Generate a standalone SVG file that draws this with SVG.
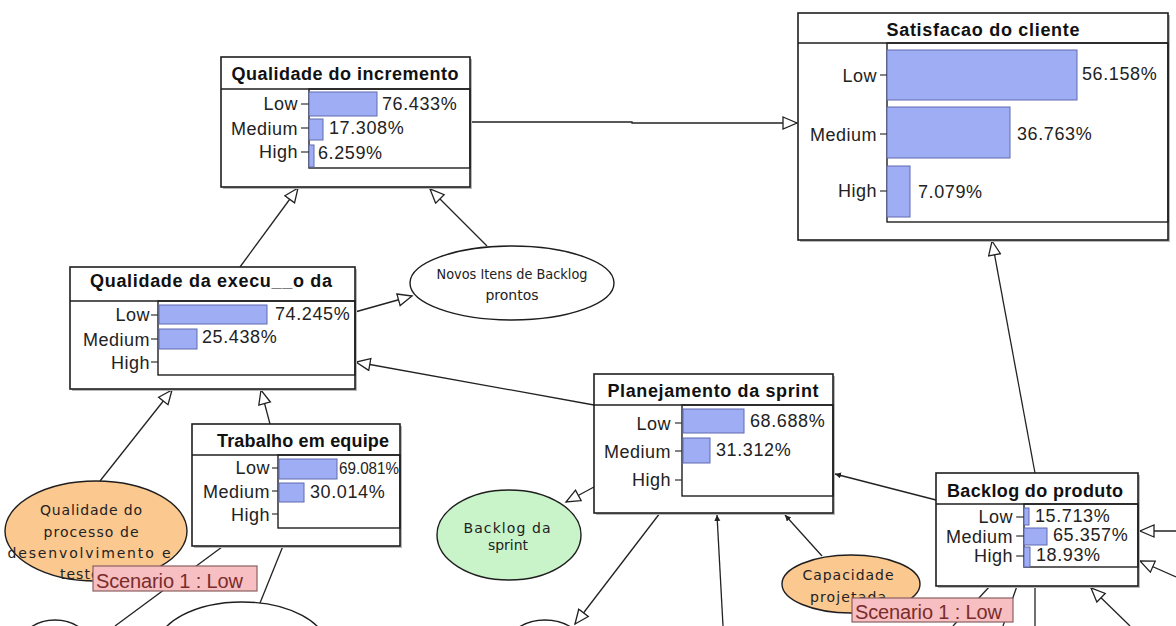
<svg xmlns="http://www.w3.org/2000/svg" width="1176" height="626" viewBox="0 0 1176 626">
  <defs>
    <marker id="hollow" markerUnits="userSpaceOnUse" markerWidth="18" markerHeight="16" refX="15" refY="7" orient="auto" viewBox="0 0 18 16">
      <path d="M1,1 L15,7 L1,13 Z" fill="#fff" stroke="#222" stroke-width="1.3"/>
    </marker>
    <marker id="tip" markerUnits="userSpaceOnUse" markerWidth="8" markerHeight="8" refX="6" refY="3" orient="auto" viewBox="0 0 8 8">
      <path d="M0,0 L6,3 L0,6 Z" fill="#222"/>
    </marker>
  </defs>
  <style>
    .bg { fill: #ffffff; }
    .box { fill: #ffffff; stroke: #1e1e1e; stroke-width: 1.6; }
    .shadow { fill: #b8b8b8; }
    .sep { stroke: #1e1e1e; stroke-width: 1.6; }
    .chart { fill: none; stroke: #1e1e1e; stroke-width: 1.4; }
    .tick { stroke: #333; stroke-width: 1.2; }
    .bar { fill: #9fadf4; stroke: #5f6bb0; stroke-width: 1; }
    .title { font-family: "Liberation Sans", Arial, sans-serif; font-weight: bold; font-size: 18px; fill: #111; text-anchor: middle; }
    .lab { font-family: "Liberation Sans", Arial, sans-serif; font-size: 18px; fill: #222; text-anchor: end; letter-spacing: 0.5px; }
    .pct { font-family: "Liberation Sans", Arial, sans-serif; font-size: 18px; fill: #222; letter-spacing: 0.6px; }
    .edge { fill: none; stroke: #222; stroke-width: 1.3; }
    .ell { stroke: #1e1e1e; stroke-width: 1.4; }
    .white { fill: #ffffff; }
    .orange { fill: #fbc890; }
    .green { fill: #c9f3c9; }
    .etxt { font-family: "DejaVu Sans", Verdana, sans-serif; font-size: 14px; fill: #222; text-anchor: middle; }
    .scen rect { fill: #f7bfc1; stroke: #8a6060; stroke-width: 1.2; }
    .scen text { font-family: "Liberation Sans", Arial, sans-serif; font-size: 20px; fill: #7a2c2c; }
  </style>

  <rect class="bg" x="0" y="0" width="1176" height="626"/>

  <!-- connectors -->
  <g id="connectors">
    <path class="edge" d="M470,122 H632 V123 H797" marker-end="url(#hollow)"/>
    <line class="edge" x1="240" y1="267" x2="298" y2="188" marker-end="url(#hollow)"/>
    <line class="edge" x1="487" y1="246" x2="430" y2="189" marker-end="url(#hollow)"/>
    <line class="edge" x1="355" y1="312" x2="412" y2="296" marker-end="url(#hollow)"/>
    <line class="edge" x1="594" y1="405" x2="356" y2="362" marker-end="url(#hollow)"/>
    <line class="edge" x1="270" y1="424" x2="261" y2="390" marker-end="url(#hollow)"/>
    <line class="edge" x1="100" y1="481" x2="172" y2="390" marker-end="url(#hollow)"/>
    <line class="edge" x1="594" y1="487" x2="566" y2="502" marker-end="url(#hollow)"/>
    <line class="edge" x1="936" y1="500" x2="835" y2="474" marker-end="url(#tip)"/>
    <line class="edge" x1="822" y1="556" x2="785" y2="515" marker-end="url(#tip)"/>
    <line class="edge" x1="723" y1="626" x2="717" y2="515" marker-end="url(#tip)"/>
    <line class="edge" x1="660" y1="513" x2="575" y2="624" marker-end="url(#hollow)"/>
    <line class="edge" x1="1035" y1="473" x2="992" y2="241" marker-end="url(#hollow)"/>
    <line class="edge" x1="222" y1="547" x2="115" y2="626"/>
    <line class="edge" x1="283" y1="546" x2="260" y2="603"/>
    <line class="edge" x1="1176" y1="531" x2="1140" y2="531" marker-end="url(#hollow)"/>
    <line class="edge" x1="1176" y1="577" x2="1140" y2="561" marker-end="url(#hollow)"/>
    <line class="edge" x1="1130" y1="626" x2="1091" y2="588" marker-end="url(#hollow)"/>
    <line class="edge" x1="990" y1="586" x2="953" y2="626"/>
    <line class="edge" x1="1017" y1="586" x2="1003" y2="626"/>
    <line class="edge" x1="1035" y1="586" x2="1035" y2="626"/>
  </g>

  <!-- Qualidade do incremento -->
  <g id="qualidade-incremento">
    <rect class="shadow" x="223" y="59" width="249" height="130"/>
    <rect class="box" x="221" y="57" width="249" height="130"/>
    <line class="sep" x1="221" y1="89" x2="470" y2="89"/>
    <text class="title" x="345" y="80" textLength="227" lengthAdjust="spacing">Qualidade do incremento</text>
    <rect class="chart" x="309" y="89" width="161" height="79"/>
    <rect class="bar" x="309" y="92" width="68" height="24"/>
    <rect class="bar" x="309" y="119" width="14" height="21"/>
    <rect class="bar" x="309" y="145" width="5" height="22"/>
    <line class="tick" x1="301" y1="104" x2="309" y2="104"/>
    <line class="tick" x1="301" y1="128" x2="309" y2="128"/>
    <line class="tick" x1="301" y1="152" x2="309" y2="152"/>
    <text class="lab" x="298" y="110">Low</text>
    <text class="lab" x="298" y="135">Medium</text>
    <text class="lab" x="298" y="158">High</text>
    <text class="pct" x="382" y="110">76.433%</text>
    <text class="pct" x="329" y="134">17.308%</text>
    <text class="pct" x="318" y="159">6.259%</text>
  </g>

  <!-- Satisfacao do cliente -->
  <g id="satisfacao-cliente">
    <rect class="shadow" x="800" y="15" width="370" height="227"/>
    <rect class="box" x="798" y="13" width="370" height="227"/>
    <line class="sep" x1="798" y1="43" x2="1168" y2="43"/>
    <text class="title" x="983" y="36" textLength="193" lengthAdjust="spacing">Satisfacao do cliente</text>
    <rect class="chart" x="887" y="43" width="281" height="179"/>
    <rect class="bar" x="887" y="50" width="190" height="50"/>
    <rect class="bar" x="887" y="107" width="123" height="51"/>
    <rect class="bar" x="887" y="166" width="23" height="51"/>
    <line class="tick" x1="880" y1="75" x2="887" y2="75"/>
    <line class="tick" x1="880" y1="134" x2="887" y2="134"/>
    <line class="tick" x1="880" y1="191" x2="887" y2="191"/>
    <text class="lab" x="877" y="82">Low</text>
    <text class="lab" x="877" y="141">Medium</text>
    <text class="lab" x="877" y="197">High</text>
    <text class="pct" x="1082" y="80">56.158%</text>
    <text class="pct" x="1017" y="140">36.763%</text>
    <text class="pct" x="918" y="198">7.079%</text>
  </g>

  <!-- Qualidade da execucao -->
  <g id="qualidade-execucao">
    <rect class="shadow" x="72" y="269" width="285" height="122"/>
    <rect class="box" x="70" y="267" width="285" height="122"/>
    <line class="sep" x1="70" y1="301" x2="355" y2="301"/>
    <text class="title" x="211" y="287" textLength="242" lengthAdjust="spacing">Qualidade da execu__o da</text>
    <rect class="chart" x="158" y="301" width="197" height="74"/>
    <rect class="bar" x="159" y="305" width="108" height="19"/>
    <rect class="bar" x="159" y="329" width="38" height="20"/>
    <line class="tick" x1="151" y1="315" x2="158" y2="315"/>
    <line class="tick" x1="151" y1="339" x2="158" y2="339"/>
    <line class="tick" x1="151" y1="362" x2="158" y2="362"/>
    <text class="lab" x="150" y="321">Low</text>
    <text class="lab" x="150" y="346">Medium</text>
    <text class="lab" x="150" y="369">High</text>
    <text class="pct" x="275" y="320">74.245%</text>
    <text class="pct" x="202" y="343">25.438%</text>
  </g>

  <!-- Trabalho em equipe -->
  <g id="trabalho-equipe">
    <rect class="shadow" x="194" y="426" width="208" height="122"/>
    <rect class="box" x="192" y="424" width="208" height="122"/>
    <line class="sep" x1="192" y1="455" x2="400" y2="455"/>
    <text class="title" x="303" y="447" textLength="172" lengthAdjust="spacing">Trabalho em equipe</text>
    <rect class="chart" x="278" y="455" width="122" height="73"/>
    <rect class="bar" x="279" y="459" width="58" height="20"/>
    <rect class="bar" x="279" y="483" width="25" height="19"/>
    <line class="tick" x1="272" y1="468" x2="278" y2="468"/>
    <line class="tick" x1="272" y1="491" x2="278" y2="491"/>
    <line class="tick" x1="272" y1="514" x2="278" y2="514"/>
    <text class="lab" x="270" y="474">Low</text>
    <text class="lab" x="270" y="498">Medium</text>
    <text class="lab" x="270" y="521">High</text>
    <text class="pct" x="339" y="474" style="font-size:16.5px;letter-spacing:0" textLength="60" lengthAdjust="spacingAndGlyphs">69.081%</text>
    <text class="pct" x="310" y="498">30.014%</text>
  </g>

  <!-- Planejamento da sprint -->
  <g id="planejamento-sprint">
    <rect class="shadow" x="596" y="376" width="239" height="139"/>
    <rect class="box" x="594" y="374" width="239" height="139"/>
    <line class="sep" x1="594" y1="405" x2="833" y2="405"/>
    <text class="title" x="713" y="397" textLength="211" lengthAdjust="spacing">Planejamento da sprint</text>
    <rect class="chart" x="682" y="405" width="151" height="91"/>
    <rect class="bar" x="683" y="409" width="61" height="24"/>
    <rect class="bar" x="683" y="438" width="27" height="25"/>
    <line class="tick" x1="675" y1="423" x2="682" y2="423"/>
    <line class="tick" x1="675" y1="451" x2="682" y2="451"/>
    <line class="tick" x1="675" y1="480" x2="682" y2="480"/>
    <text class="lab" x="671" y="430">Low</text>
    <text class="lab" x="671" y="458">Medium</text>
    <text class="lab" x="671" y="486">High</text>
    <text class="pct" x="750" y="427">68.688%</text>
    <text class="pct" x="716" y="456">31.312%</text>
  </g>

  <!-- Backlog do produto -->
  <g id="backlog-produto">
    <rect class="shadow" x="938" y="475" width="202" height="113"/>
    <rect class="box" x="936" y="473" width="202" height="113"/>
    <line class="sep" x1="936" y1="504" x2="1138" y2="504"/>
    <text class="title" x="1035" y="497" textLength="176" lengthAdjust="spacing">Backlog do produto</text>
    <rect class="chart" x="1024" y="504" width="114" height="63"/>
    <rect class="bar" x="1024" y="508" width="5" height="17"/>
    <rect class="bar" x="1024" y="528" width="23" height="17"/>
    <rect class="bar" x="1024" y="547" width="6" height="20"/>
    <line class="tick" x1="1016" y1="517" x2="1024" y2="517"/>
    <line class="tick" x1="1016" y1="536" x2="1024" y2="536"/>
    <line class="tick" x1="1016" y1="556" x2="1024" y2="556"/>
    <text class="lab" x="1013" y="523">Low</text>
    <text class="lab" x="1013" y="543">Medium</text>
    <text class="lab" x="1013" y="562">High</text>
    <text class="pct" x="1035" y="522">15.713%</text>
    <text class="pct" x="1053" y="541">65.357%</text>
    <text class="pct" x="1036" y="561">18.93%</text>
  </g>

  <!-- Novos Itens de Backlog prontos -->
  <g id="novos-itens">
    <ellipse class="ell white" cx="512" cy="283" rx="102" ry="37"/>
    <text class="etxt" x="512" y="279" textLength="151" lengthAdjust="spacingAndGlyphs">Novos Itens de Backlog</text>
    <text class="etxt" x="512" y="300">prontos</text>
  </g>

  <!-- Qualidade do processo de desenvolvimento e teste -->
  <g id="qualidade-processo">
    <ellipse class="ell orange" cx="96" cy="531" rx="91" ry="50"/>
    <text class="etxt" x="91" y="515" textLength="102" lengthAdjust="spacing">Qualidade do</text>
    <text class="etxt" x="91" y="537" textLength="95" lengthAdjust="spacing">processo de</text>
    <text class="etxt" x="89" y="558" textLength="163" lengthAdjust="spacing">desenvolvimento e</text>
    <text class="etxt" x="60" y="579" style="text-anchor:start" letter-spacing="1">teste</text>
  </g>

  <!-- Backlog da sprint -->
  <g id="backlog-sprint">
    <ellipse class="ell green" cx="509" cy="535" rx="72" ry="45"/>
    <text class="etxt" x="507" y="533" textLength="87" lengthAdjust="spacing">Backlog da</text>
    <text class="etxt" x="508" y="550">sprint</text>
  </g>

  <!-- Capacidade projetada -->
  <g id="capacidade-projetada">
    <ellipse class="ell orange" cx="851" cy="584" rx="69" ry="29"/>
    <text class="etxt" x="848" y="580" textLength="91" lengthAdjust="spacing">Capacidade</text>
    <text class="etxt" x="848" y="602" textLength="76" lengthAdjust="spacing">projetada</text>
  </g>

  <!-- nodes cut by the lower edge -->
  <g id="node-bottom-left">
    <ellipse class="ell white" cx="55" cy="648" rx="36" ry="28"/>
  </g>
  <g id="node-bottom-center">
    <ellipse class="ell white" cx="242" cy="648" rx="85" ry="46"/>
  </g>
  <g id="node-bottom-mid">
    <ellipse class="ell white" cx="545" cy="650" rx="40" ry="30"/>
  </g>

  <!-- scenario evidence labels -->
  <g id="scenario-1" class="scen">
    <rect x="93" y="566" width="164" height="25"/>
    <text x="96" y="588" textLength="147" lengthAdjust="spacing">Scenario 1 : Low</text>
  </g>
  <g id="scenario-2" class="scen">
    <rect x="852" y="598" width="161" height="24"/>
    <text x="855" y="619" textLength="147" lengthAdjust="spacing">Scenario 1 : Low</text>
  </g>
</svg>
